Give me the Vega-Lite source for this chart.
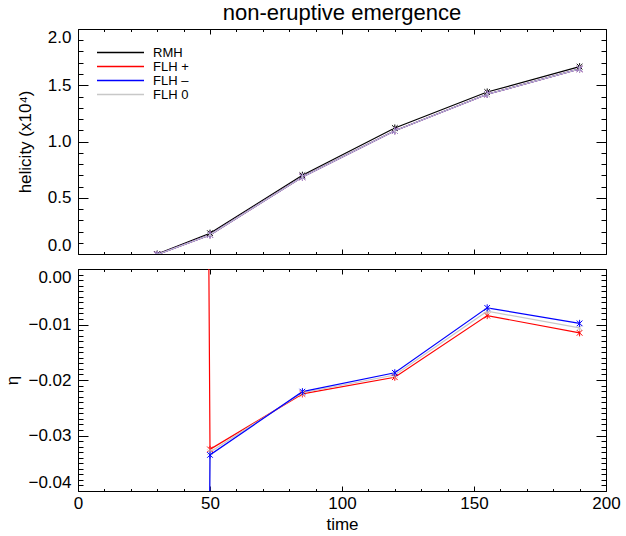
{
  "$schema": "https://vega.github.io/schema/vega-lite/v6.json",
  "description": "Helicity and eta against time for a non-eruptive emergence run, two stacked panels.",
  "padding": {"left": 3, "top": 1, "right": 10, "bottom": 2},
  "title": {"text": "non-eruptive emergence", "fontSize": 22, "font": "Liberation Sans", "fontWeight": "normal", "color": "black", "anchor": "middle", "frame": "group", "offset": 3},
  "spacing": 15,
  "bounds": "flush",
  "datasets": {
    "helicity": [
      {"time": 30, "series": "RMH", "value": 0.0},
      {"time": 50, "series": "RMH", "value": 0.185},
      {"time": 85, "series": "RMH", "value": 0.70},
      {"time": 120, "series": "RMH", "value": 1.12},
      {"time": 155, "series": "RMH", "value": 1.44},
      {"time": 190, "series": "RMH", "value": 1.665},
      {"time": 30, "series": "FLH +", "value": -0.005},
      {"time": 50, "series": "FLH +", "value": 0.17},
      {"time": 85, "series": "FLH +", "value": 0.685},
      {"time": 120, "series": "FLH +", "value": 1.095},
      {"time": 155, "series": "FLH +", "value": 1.42},
      {"time": 190, "series": "FLH +", "value": 1.645},
      {"time": 30, "series": "FLH –", "value": -0.005},
      {"time": 50, "series": "FLH –", "value": 0.17},
      {"time": 85, "series": "FLH –", "value": 0.685},
      {"time": 120, "series": "FLH –", "value": 1.095},
      {"time": 155, "series": "FLH –", "value": 1.42},
      {"time": 190, "series": "FLH –", "value": 1.645},
      {"time": 30, "series": "FLH 0", "value": -0.005},
      {"time": 50, "series": "FLH 0", "value": 0.17},
      {"time": 85, "series": "FLH 0", "value": 0.685},
      {"time": 120, "series": "FLH 0", "value": 1.095},
      {"time": 155, "series": "FLH 0", "value": 1.42},
      {"time": 190, "series": "FLH 0", "value": 1.645}
    ],
    "eta": [
      {"time": 30, "series": "FLH +", "value": 1.5},
      {"time": 50, "series": "FLH +", "value": -0.0325},
      {"time": 85, "series": "FLH +", "value": -0.0225},
      {"time": 120, "series": "FLH +", "value": -0.0195},
      {"time": 155, "series": "FLH +", "value": -0.0084},
      {"time": 190, "series": "FLH +", "value": -0.0115},
      {"time": 30, "series": "FLH 0", "value": -1.0},
      {"time": 50, "series": "FLH 0", "value": -0.033},
      {"time": 85, "series": "FLH 0", "value": -0.0223},
      {"time": 120, "series": "FLH 0", "value": -0.0191},
      {"time": 155, "series": "FLH 0", "value": -0.0076},
      {"time": 190, "series": "FLH 0", "value": -0.0106},
      {"time": 30, "series": "FLH –", "value": -1.5},
      {"time": 50, "series": "FLH –", "value": -0.0335},
      {"time": 85, "series": "FLH –", "value": -0.0221},
      {"time": 120, "series": "FLH –", "value": -0.0187},
      {"time": 155, "series": "FLH –", "value": -0.0070},
      {"time": 190, "series": "FLH –", "value": -0.0098}
    ]
  },
  "vconcat": [
    {
      "width": 528,
      "height": 225,
      "data": {"name": "helicity"},
      "layer": [
        {
          "mark": {"type": "line", "strokeWidth": 1.2, "clip": true},
          "encoding": {
            "x": {"field": "time", "type": "quantitative", "scale": {"domain": [0, 200], "nice": false},
                  "axis": {"orient": "bottom", "values": [0,10,20,30,40,50,60,70,80,90,100,110,120,130,140,150,160,170,180,190,200],
                           "labels": false, "title": null, "domain": false, "grid": false, "tickColor": "black",
                           "tickSize": {"condition": {"test": "datum.value % 50 === 0", "value": -5}, "value": -2.5}}},
            "y": {"field": "value", "type": "quantitative", "scale": {"domain": [0, 2], "nice": false, "zero": false},
                  "axis": {"orient": "left", "values": [0,0.1,0.2,0.3,0.4,0.5,0.6,0.7,0.8,0.9,1,1.1,1.2,1.3,1.4,1.5,1.6,1.7,1.8,1.9,2],
                           "format": ".1f", "labelExpr": "abs(datum.value*2 - round(datum.value*2)) < 1e-6 ? datum.label : ''",
                           "tickSize": {"condition": {"test": "abs(datum.value*2 - round(datum.value*2)) < 1e-6", "value": -10}, "value": -5},
                           "labelPadding": 17, "labelFontSize": 17, "labelFont": "Liberation Sans", "labelColor": "black",
                           "labelOverlap": false, "labelFlush": true, "domain": false, "grid": false, "tickColor": "black",
                           "title": "helicity (x10⁴)", "titleFontSize": 17, "titleFont": "Liberation Sans", "titleFontWeight": "normal",
                           "titleColor": "black", "titlePadding": 13}},
            "color": {"field": "series", "type": "nominal",
                      "scale": {"domain": ["RMH", "FLH +", "FLH –", "FLH 0"], "range": ["#000000", "#ff0000", "#0000ff", "#c8c8c8"]},
                      "legend": {"orient": "none", "legendX": 36, "legendY": 17, "title": null, "symbolType": "M-4.7,0H4.7", "symbolSize": 100,
                                 "symbolStrokeWidth": 1.5, "labelFontSize": 13, "labelFont": "Liberation Sans", "labelColor": "black",
                                 "rowPadding": -3, "padding": 0, "labelOffset": 26,
                                 "encode": {"symbols": {"update": {"stroke": {"scale": "color", "field": "value"}, "fill": {"value": "transparent"}, "opacity": {"value": 1}, "strokeWidth": {"value": 1.5}}}}}}
          }
        },
        {
          "mark": {"type": "point", "shape": "M0,-1L0,1M-0.8,-0.8L0.8,0.8M-0.8,0.8L0.8,-0.8", "filled": false, "size": 50, "strokeWidth": 1, "opacity": 1, "clip": true},
          "encoding": {
            "x": {"field": "time", "type": "quantitative",
                  "axis": {"orient": "top", "values": [0,10,20,30,40,50,60,70,80,90,100,110,120,130,140,150,160,170,180,190,200],
                           "labels": false, "title": null, "domain": false, "grid": false, "tickColor": "black",
                           "tickSize": {"condition": {"test": "datum.value % 50 === 0", "value": -5}, "value": -2.5}}},
            "y": {"field": "value", "type": "quantitative",
                  "axis": {"orient": "right", "values": [0,0.1,0.2,0.3,0.4,0.5,0.6,0.7,0.8,0.9,1,1.1,1.2,1.3,1.4,1.5,1.6,1.7,1.8,1.9,2],
                           "labels": false, "title": null, "domain": false, "grid": false, "tickColor": "black",
                           "tickSize": {"condition": {"test": "abs(datum.value*2 - round(datum.value*2)) < 1e-6", "value": -10}, "value": -5}}},
            "color": {"field": "series", "type": "nominal", "legend": null}
          }
        }
      ],
      "resolve": {"axis": {"x": "independent", "y": "independent"}}
    },
    {
      "width": 528,
      "height": 222,
      "data": {"name": "eta"},
      "layer": [
        {
          "mark": {"type": "line", "strokeWidth": 1.2, "clip": true},
          "encoding": {
            "x": {"field": "time", "type": "quantitative", "scale": {"domain": [0, 200], "nice": false},
                  "axis": {"orient": "bottom", "values": [0,10,20,30,40,50,60,70,80,90,100,110,120,130,140,150,160,170,180,190,200],
                           "format": "d", "labelExpr": "datum.value % 50 === 0 ? datum.label : ''",
                           "tickSize": {"condition": {"test": "datum.value % 50 === 0", "value": -5}, "value": -2.5},
                           "labelPadding": 9.5, "labelFontSize": 17, "labelFont": "Liberation Sans", "labelColor": "black",
                           "labelOverlap": false, "labelFlush": false, "domain": false, "grid": false, "tickColor": "black",
                           "title": "time", "titleFontSize": 17, "titleFont": "Liberation Sans", "titleFontWeight": "normal",
                           "titleColor": "black", "titlePadding": 2}},
            "y": {"field": "value", "type": "quantitative", "scale": {"domain": [-0.04, 0], "nice": false, "zero": false},
                  "axis": {"orient": "left",
                           "values": [-0.04,-0.039,-0.038,-0.037,-0.036,-0.035,-0.034,-0.033,-0.032,-0.031,-0.03,-0.029,-0.028,-0.027,-0.026,-0.025,-0.024,-0.023,-0.022,-0.021,-0.02,-0.019,-0.018,-0.017,-0.016,-0.015,-0.014,-0.013,-0.012,-0.011,-0.01,-0.009,-0.008,-0.007,-0.006,-0.005,-0.004,-0.003,-0.002,-0.001,0],
                           "format": ".2f", "labelExpr": "abs(datum.value*100 - round(datum.value*100)) < 1e-6 ? datum.label : ''",
                           "tickSize": {"condition": {"test": "abs(datum.value*100 - round(datum.value*100)) < 1e-6", "value": -10}, "value": -5},
                           "labelPadding": 17, "labelFontSize": 17, "labelFont": "Liberation Sans", "labelColor": "black",
                           "labelOverlap": false, "labelFlush": true, "domain": false, "grid": false, "tickColor": "black",
                           "title": "η", "titleFontSize": 17, "titleFont": "Liberation Sans", "titleFontWeight": "normal",
                           "titleColor": "black", "titlePadding": 6}},
            "color": {"field": "series", "type": "nominal",
                      "scale": {"domain": ["RMH", "FLH +", "FLH –", "FLH 0"], "range": ["#000000", "#ff0000", "#0000ff", "#c8c8c8"]},
                      "legend": null}
          }
        },
        {
          "mark": {"type": "point", "shape": "M0,-1L0,1M-0.8,-0.8L0.8,0.8M-0.8,0.8L0.8,-0.8", "filled": false, "size": 50, "strokeWidth": 1, "opacity": 1, "clip": true},
          "encoding": {
            "x": {"field": "time", "type": "quantitative",
                  "axis": {"orient": "top", "values": [0,10,20,30,40,50,60,70,80,90,100,110,120,130,140,150,160,170,180,190,200],
                           "labels": false, "title": null, "domain": false, "grid": false, "tickColor": "black",
                           "tickSize": {"condition": {"test": "datum.value % 50 === 0", "value": -5}, "value": -2.5}}},
            "y": {"field": "value", "type": "quantitative",
                  "axis": {"orient": "right",
                           "values": [-0.04,-0.039,-0.038,-0.037,-0.036,-0.035,-0.034,-0.033,-0.032,-0.031,-0.03,-0.029,-0.028,-0.027,-0.026,-0.025,-0.024,-0.023,-0.022,-0.021,-0.02,-0.019,-0.018,-0.017,-0.016,-0.015,-0.014,-0.013,-0.012,-0.011,-0.01,-0.009,-0.008,-0.007,-0.006,-0.005,-0.004,-0.003,-0.002,-0.001,0],
                           "labels": false, "title": null, "domain": false, "grid": false, "tickColor": "black",
                           "tickSize": {"condition": {"test": "abs(datum.value*100 - round(datum.value*100)) < 1e-6", "value": -10}, "value": -5}}},
            "color": {"field": "series", "type": "nominal", "legend": null}
          }
        }
      ],
      "resolve": {"axis": {"x": "independent", "y": "independent"}}
    }
  ],
  "resolve": {"legend": {"color": "independent"}},
  "config": {
    "view": {"stroke": "black", "strokeWidth": 1},
    "font": "Liberation Sans"
  }
}
